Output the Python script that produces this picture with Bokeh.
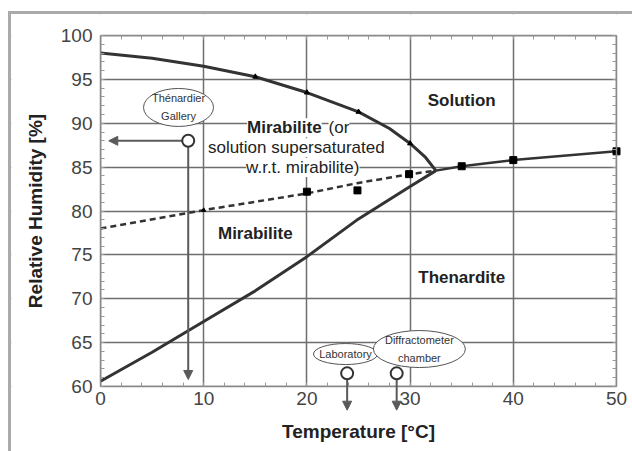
from bokeh.plotting import figure
from bokeh.models import (LinearAxis, Label, Arrow, NormalHead, BoxAnnotation,
                          SingleIntervalTicker, Range1d)
from bokeh.embed import file_html
from bokeh.resources import INLINE

# ---- data ----
t_mir_sol = [0, 5, 10, 15, 20, 25, 28, 30, 31.5, 32.5]
rh_mir_sol = [98.0, 97.4, 96.5, 95.3, 93.5, 91.3, 89.4, 87.7, 86.1, 84.6]

t_mir_then = [0, 5, 10, 15, 20, 25, 30, 32.5]
rh_mir_then = [60.6, 63.9, 67.4, 70.9, 74.8, 79.1, 82.8, 84.6]

t_then_sol = [32.5, 35, 40, 50]
rh_then_sol = [84.6, 85.1, 85.8, 86.8]

t_meta = [0, 10, 20, 25, 30, 32.5]
rh_meta = [78.0, 80.1, 82.0, 83.2, 84.2, 84.6]

t_squares = [20, 24.9, 29.9, 35, 40, 50]
rh_squares = [82.2, 82.35, 84.2, 85.1, 85.8, 86.8]

t_ticks_upper = [15, 20, 25, 30]
rh_ticks_upper = [95.3, 93.5, 91.3, 87.7]

x_ticks = [0, 10, 20, 30, 40, 50]
y_ticks = [60, 65, 70, 75, 80, 85, 90, 95, 100]

t_gallery, rh_gallery = 8.5, 88.0
t_sites = [23.9, 28.7]
rh_sites = [61.5, 61.5]

X_MIN, X_MAX = 0, 50
Y_MIN, Y_MAX = 60, 100

FONT = "Liberation Sans"
GRID = "#6e6e6e"
CURVE = "#333333"
ARROW = "#5a5a5a"
FRAME = "#888888"

# ---- layout: the whole canvas is the frame; axes are pinned to the data box ----
CANVAS_W, CANVAS_H = 621, 437
BOX_LEFT, BOX_TOP = 89, 21          # pixel offset of the data box inside canvas
BOX_W, BOX_H = 516, 351
sx = BOX_W / (X_MAX - X_MIN)
sy = BOX_H / (Y_MAX - Y_MIN)
x0 = X_MIN - BOX_LEFT / sx
y1 = Y_MAX + BOX_TOP / sy

p = figure(frame_width=CANVAS_W, frame_height=CANVAS_H,
           x_range=Range1d(x0, x0 + CANVAS_W / sx),
           y_range=Range1d(y1 - CANVAS_H / sy, y1),
           output_backend="svg", toolbar_location=None,
           min_border=0,
           background_fill_color="white", border_fill_color="white")
p.margin = (11, 0, 0, 8)
p.styles = {"border-top": "3px solid #aaaaaa", "border-left": "3px solid #aaaaaa"}
p.outline_line_color = None

# axes
p.xaxis.ticker = SingleIntervalTicker(interval=10, num_minor_ticks=5)
p.yaxis.ticker = SingleIntervalTicker(interval=5, num_minor_ticks=5)
p.xaxis.fixed_location = Y_MIN
p.yaxis.fixed_location = X_MIN
p.xaxis.bounds = (X_MIN, X_MAX)
p.yaxis.bounds = (Y_MIN, Y_MAX)
for ax in [p.xaxis[0], p.yaxis[0]]:
    ax.axis_line_color = FRAME
    ax.axis_line_width = 1.5
    ax.major_tick_out = 0
    ax.major_tick_in = 0
    ax.minor_tick_out = 0
    ax.minor_tick_in = 4
    ax.minor_tick_line_color = "#999999"
    ax.major_label_text_font = FONT
    ax.major_label_text_font_size = "19px"
    ax.major_label_text_color = "#444444"
    ax.axis_label_text_font = FONT
    ax.axis_label_text_font_size = "19px"
    ax.axis_label_text_font_style = "bold"
    ax.axis_label_text_color = "#222222"
p.xaxis.axis_label = "Temperature [°C]"
p.yaxis.axis_label = "Relative Humidity [%]"
p.xaxis.major_label_standoff = 5
p.xaxis.axis_label_standoff = 13
p.yaxis.major_label_standoff = 8
p.yaxis.axis_label_standoff = 12

for side, interval, ticks, loc, bnds in [("above", 10, x_ticks, Y_MAX, (X_MIN, X_MAX)),
                                         ("right", 5, y_ticks, X_MAX, (Y_MIN, Y_MAX))]:
    ax = LinearAxis(ticker=SingleIntervalTicker(interval=interval, num_minor_ticks=5))
    ax.axis_line_color = FRAME
    ax.axis_line_width = 1.5
    ax.major_tick_out = 0
    ax.major_tick_in = 0
    ax.minor_tick_out = 0
    ax.minor_tick_in = 4
    ax.minor_tick_line_color = "#999999"
    ax.major_label_overrides = {v: "" for v in ticks}
    ax.major_label_standoff = 0
    ax.fixed_location = loc
    ax.bounds = bnds
    p.add_layout(ax, side)

p.xgrid.ticker = SingleIntervalTicker(interval=10)
p.ygrid.ticker = SingleIntervalTicker(interval=5)
for g in [p.xgrid[0], p.ygrid[0]]:
    g.grid_line_color = GRID
    g.grid_line_width = 1.5

# white masks outside the data box (hide grid lines there)
for kw in [dict(top=Y_MIN), dict(bottom=Y_MAX), dict(right=X_MIN), dict(left=X_MAX)]:
    m = BoxAnnotation(fill_color="white", fill_alpha=1, line_color=None, **kw)
    m.level = "underlay"
    p.add_layout(m)

# curves
p.line(t_mir_sol, rh_mir_sol, line_color=CURVE, line_width=3)
p.line(t_mir_then, rh_mir_then, line_color=CURVE, line_width=3)
p.line(t_then_sol, rh_then_sol, line_color=CURVE, line_width=2.5)
p.line(t_meta, rh_meta, line_color=CURVE, line_width=2.5, line_dash="6 4")
p.scatter(t_squares, rh_squares, marker="square", size=7, color="black")
p.scatter(t_ticks_upper, rh_ticks_upper, marker="triangle", size=5, color="black")
p.scatter([10], [80.1], marker="triangle", size=4, color="black")

# bubbles
p.ellipse(x=[7.56, 23.74, 30.9], y=[91.8, 63.7, 64.27],
          width=[70, 64, 92], height=[38, 21, 37],
          width_units="screen", height_units="screen",
          fill_color="white", line_color="#555555", line_width=1)

# arrows
def arrow(xa, ya, xb, yb):
    p.add_layout(Arrow(end=NormalHead(size=9, fill_color=ARROW, line_color=ARROW),
                       x_start=xa, y_start=ya, x_end=xb, y_end=yb,
                       line_color=ARROW, line_width=2))

arrow(t_gallery - 0.6, rh_gallery, 0.8, rh_gallery)
arrow(t_gallery, rh_gallery - 0.7, t_gallery, 60.8)
for t, rh in zip(t_sites, rh_sites):
    arrow(t, rh - 0.7, t, 57.3)

# circles (on top)
r = p.scatter([t_gallery] + t_sites, [rh_gallery] + rh_sites, marker="circle", size=12,
              fill_color="white", line_color="#333333", line_width=2)
r.level = "overlay"

def label(x, y, text, size="17px", bold=True, align="center", bg=None, color="#222222"):
    kw = {}
    if bg:
        kw["background_fill_color"] = bg
    p.add_layout(Label(x=x, y=y, text=text, text_align=align, text_baseline="middle",
                       text_font=FONT, text_font_size=size,
                       text_font_style="bold" if bold else "normal",
                       text_color=color, **kw))

label(35.0, 92.6, "Solution")
label(15.0, 77.4, "Mirabilite")
label(35.0, 72.4, "Thenardite")
label(14.2, 89.5, "Mirabilite", align="left", bg="white")
label(22.1, 89.5, "(or", bold=False, align="left", bg="white")
label(19.2, 87.2, "solution  supersaturated", bold=False, bg="white")
label(19.6, 84.96, "w.r.t. mirabilite)", bold=False, bg="white")

label(7.56, 92.85, "Thénardier", size="11px", bold=False, color="#333333")
label(7.56, 90.8, "Gallery", size="11px", bold=False, color="#333333")
label(23.74, 63.7, "Laboratory", size="11px", bold=False, color="#333333")
label(30.9, 65.3, "Diffractometer", size="11px", bold=False, color="#333333")
label(30.9, 63.25, "chamber", size="11px", bold=False, color="#333333")

open("out.html", "w").write(file_html(p, INLINE))
